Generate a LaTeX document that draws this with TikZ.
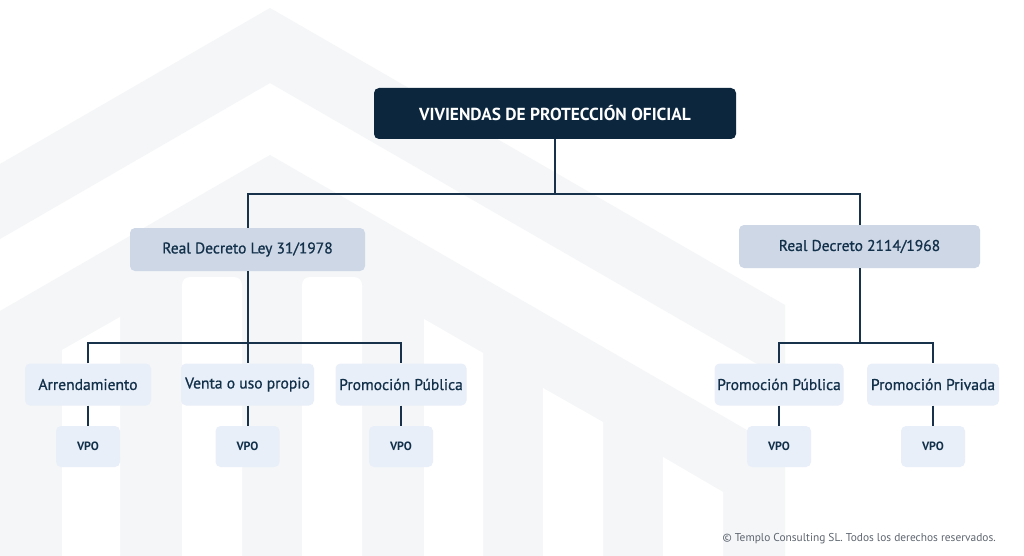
\documentclass[tikz,border=0pt]{standalone}
\usepackage{fontspec}
\setmainfont{PT Sans}
\newfontfamily\semifont{PT Sans}[FakeBold=0.8]
\usepackage{tikz}
\usetikzlibrary{positioning, calc}
\definecolor{vponavy}{HTML}{0B263D}
\definecolor{vpoline}{HTML}{17324A}
\definecolor{vpotext}{HTML}{12304A}
\definecolor{vposlate}{HTML}{CDD7E6}
\definecolor{vpopale}{HTML}{E9EFF8}
\definecolor{vpomark}{HTML}{F4F6F8}
\definecolor{vpogray}{HTML}{5F6670}

\begin{document}
\begin{tikzpicture}[x=1pt, y=-1pt,
  every node/.style={inner sep=0pt, text=vpotext},
  topbox/.style={fill=vponavy, rounded corners=5pt, minimum width=362pt, minimum height=51pt, text=white, font=\bfseries\fontsize{17.4}{20}\selectfont},
  lawbox/.style={fill=vposlate, rounded corners=5pt, minimum height=43pt, font=\semifont\fontsize{15.5}{18}\selectfont},
  kindbox/.style={fill=vpopale, rounded corners=5pt, minimum height=42pt, font=\semifont\fontsize{15.6}{18}\selectfont},
  vpobox/.style={fill=vpopale, rounded corners=5pt, minimum width=64pt, minimum height=41pt, font=\bfseries\fontsize{12}{14}\selectfont},
  link/.style={draw=vpoline, line width=2pt}]
  \useasboundingbox (0,0) rectangle (1024,556);
  \fill[white] (0,0) rectangle (1024,556);

  % house watermark
  \begin{scope}
    \clip (0,0) rectangle (1024,556);
    \fill[vpomark] (0,164) -- (270,8) -- (785,305) -- (785,380) -- (270,83) -- (0,239) -- cycle;
    \fill[vpomark] (0,311) -- (270,155) -- (785,452) -- (785,600) -- (0,600) -- cycle;
    \fill[white] (62,350) -- (120,317) -- (120,600) -- (62,600) -- cycle;
    \fill[white, rounded corners=8pt] (182,620) -- (182,277) -- (242,277) -- (242,620) -- cycle;
    \fill[white, rounded corners=8pt] (302,620) -- (302,277) -- (362,277) -- (362,620) -- cycle;
    \fill[white] (424,319) -- (483,353) -- (483,600) -- (424,600) -- cycle;
    \fill[white] (543,388) -- (603,422) -- (603,600) -- (543,600) -- cycle;
    \fill[white] (663,457) -- (723,492) -- (723,600) -- (663,600) -- cycle;
  \end{scope}

  \node[topbox] (vpo) at (555,113.5) {VIVIENDAS DE PROTECCIÓN OFICIAL};
  \node[lawbox, minimum width=235pt] (rdley) at (247.5,249.5) {Real Decreto Ley 31/1978};
  \node[lawbox, minimum width=241pt] (rdold) at (859.5,246.5) {Real Decreto 2114/1968};

  \node[kindbox, minimum width=126pt] (arr) at (88,384.5) {Arrendamiento};
  \node[kindbox, minimum width=133pt] (venta) at (247.5,384.5) {Venta o uso propio};
  \node[kindbox, minimum width=131pt] (pubA) at (401,384.5) {Promoción Pública};
  \node[kindbox, minimum width=129pt] (pubB) at (779,384.5) {Promoción Pública};
  \node[kindbox, minimum width=132pt] (priv) at (933,384.5) {Promoción Privada};

  \node[vpobox] (vpoA) at (88,446.5) {VPO};
  \node[vpobox] (vpoB) at (247.5,446.5) {VPO};
  \node[vpobox] (vpoC) at (401,446.5) {VPO};
  \node[vpobox] (vpoD) at (779,446.5) {VPO};
  \node[vpobox] (vpoE) at (933,446.5) {VPO};

  \coordinate (busTop) at (555,194);
  \coordinate (busLeft) at (247.5,343);
  \coordinate (busRight) at (859.5,343);
  \draw[link] (vpo.south) -- (busTop);
  \draw[link] (rdley.north) |- (rdold.north |- busTop) -- (rdold.north);
  \draw[link] (rdley.south) -- (venta.north);
  \draw[link] (arr.north) |- (pubA.north |- busLeft) -- (pubA.north);
  \draw[link] (rdold.south) -- (busRight);
  \draw[link] (pubB.north) |- (priv.north |- busRight) -- (priv.north);
  \foreach \a/\b in {arr/vpoA, venta/vpoB, pubA/vpoC, pubB/vpoD, priv/vpoE}
    \draw[link] (\a.south) -- (\b.north);

  \node[text=vpogray, anchor=east, font=\fontsize{11.4}{13}\selectfont] (copy) at (996,539) {© Templo Consulting SL. Todos los derechos reservados.};
\end{tikzpicture}
\end{document}
